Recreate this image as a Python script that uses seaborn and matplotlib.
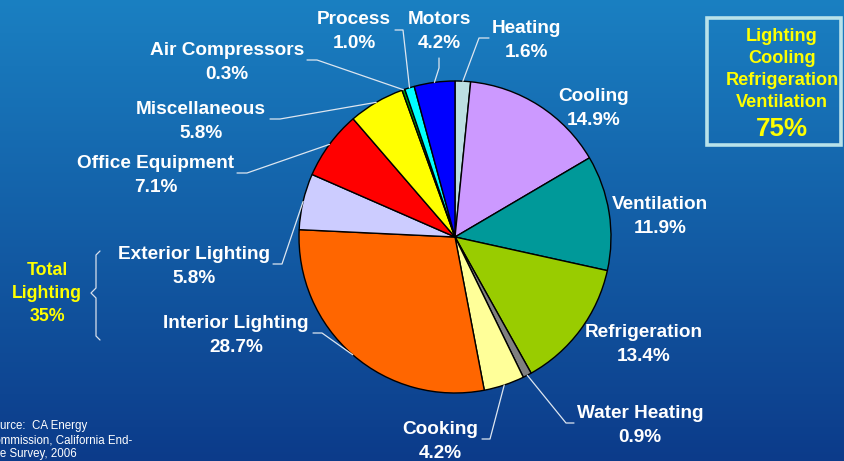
import numpy as np
import matplotlib
matplotlib.use("Agg")
import matplotlib.pyplot as plt
from matplotlib.colors import LinearSegmentedColormap
from matplotlib.patches import Rectangle
import seaborn as sns

# === Data ===
categories = ["Heating", "Cooling", "Ventilation", "Refrigeration", "Water Heating",
              "Cooking", "Interior Lighting", "Exterior Lighting", "Office Equipment",
              "Miscellaneous", "Air Compressors", "Process", "Motors"]
shares = [1.6, 14.9, 11.9, 13.4, 0.9, 4.2, 28.7, 5.8, 7.1, 5.8, 0.3, 1.0, 4.2]
slice_colors = ["#bcdfe2", "#cc99ff", "#009999", "#99cc00", "#808080", "#ffff99",
                "#ff6600", "#ccccff", "#ff0000", "#ffff00", "#00a000", "#00ffff", "#0000ff"]
box_lines = ["Lighting", "Cooling", "Refrigeration", "Ventilation"]
box_total = "75%"
lighting_lines = ["Total", "Lighting", "35%"]
source_lines = ["Source:  CA Energy", "Commission, California End-", "Use Survey, 2006"]

# === Layout (pixels, y measured from the top) ===
W, H = 844, 461
CX, CY, R = 455, 237, 156
TY = 1.5  # small downward nudge so caps sit where the reference has them
label_pos = {
    "Heating": (526, 27), "Cooling": (594, 95), "Ventilation": (660, 203),
    "Refrigeration": (644, 331), "Water Heating": (640, 412), "Cooking": (440, 428),
    "Interior Lighting": (236, 322), "Exterior Lighting": (194, 253),
    "Office Equipment": (156, 162), "Miscellaneous": (201, 108),
    "Air Compressors": (227, 49), "Process": (354, 18), "Motors": (439, 18),
}
# elbow points of the leader lines, from the label end towards the pie
leaders = {
    "Heating": [(489, 38), (479, 38)],
    "Motors": [(439, 58), (439, 68)],
    "Process": [(395, 30), (403, 30)],
    "Air Compressors": [(307, 60), (317, 60)],
    "Miscellaneous": [(270, 119), (280, 119)],
    "Office Equipment": [(237, 173), (247, 173)],
    "Exterior Lighting": [(273, 264), (282, 264)],
    "Interior Lighting": [(313, 333), (322, 333)],
    "Cooking": [(482, 439), (490, 439)],
    "Water Heating": [(574, 423), (566, 423)],
}

sns.set_style("white")
plt.rcParams["font.family"] = ["Liberation Sans", "DejaVu Sans"]

fig = plt.figure(figsize=(W / 100, H / 100), dpi=100)
ax = fig.add_axes([0, 0, 1, 1])

# background gradient
bg = LinearSegmentedColormap.from_list("bg", ["#1a80c2", "#0c3b8a"])
ax.imshow(np.linspace(0, 1, 256).reshape(-1, 1), cmap=bg, aspect="auto",
          extent=(0, W, 0, H), origin="upper", zorder=0)

wedges, _ = ax.pie(shares, colors=slice_colors, startangle=90, counterclock=False,
                   radius=R, center=(CX, H - CY),
                   wedgeprops=dict(edgecolor="black", linewidth=1.0, zorder=2))

line_color = "#dde6f0"
for name, pct, w in zip(categories, shares, wedges):
    x, y = label_pos[name]
    ax.text(x, H - y - TY, name, ha="center", va="center", color="white",
            fontsize=13.7, fontweight="bold", zorder=4)
    ax.text(x, H - y - 24 - TY, f"{pct:.1f}%", ha="center", va="center", color="white",
            fontsize=13.7, fontweight="bold", zorder=4)
    if name in leaders:
        mid = np.deg2rad((w.theta1 + w.theta2) / 2)
        pts = [(px, H - py) for px, py in leaders[name]]
        pts.append((CX + R * np.cos(mid), H - CY + R * np.sin(mid)))
        xs, ys = zip(*pts)
        ax.plot(xs, ys, color=line_color, lw=0.9, zorder=3)

# summary box top right
ax.add_patch(Rectangle((707, H - 145), 134, 127, fill=False,
                       edgecolor="#b8e2ea", lw=2.6, zorder=4))
for i, t in enumerate(box_lines):
    ax.text(782, H - (35 + 22 * i) - TY, t, ha="center", va="center", color="#ffff00",
            fontsize=13.1, fontweight="bold", zorder=5)
ax.text(782, H - 127 - TY, box_total, ha="center", va="center", color="#ffff00",
        fontsize=18.7, fontweight="bold", zorder=5)

# total lighting with brace
for i, t in enumerate(lighting_lines):
    ax.text(47, H - (269 + 23 * i) - TY, t, ha="center", va="center", color="#ffff00",
            fontsize=12.8, fontweight="bold", zorder=5)
brace = [(100, 251), (96, 255), (96, 288), (91, 293), (96, 298), (96, 336), (100, 340)]
bx, by = zip(*[(px, H - py) for px, py in brace])
ax.plot(bx, by, color="#d8e0ec", lw=0.9, zorder=4)

# source note, cut off at the left edge as in the original slide
for i, t in enumerate(source_lines):
    ax.text(-14, H - (426 + 14 * i), t, ha="left", va="center", color="white",
            fontsize=8.3, zorder=5)

ax.set_xlim(0, W)
ax.set_ylim(0, H)
ax.set_aspect("auto")
ax.axis("off")

fig.savefig("out.png", dpi=100)
